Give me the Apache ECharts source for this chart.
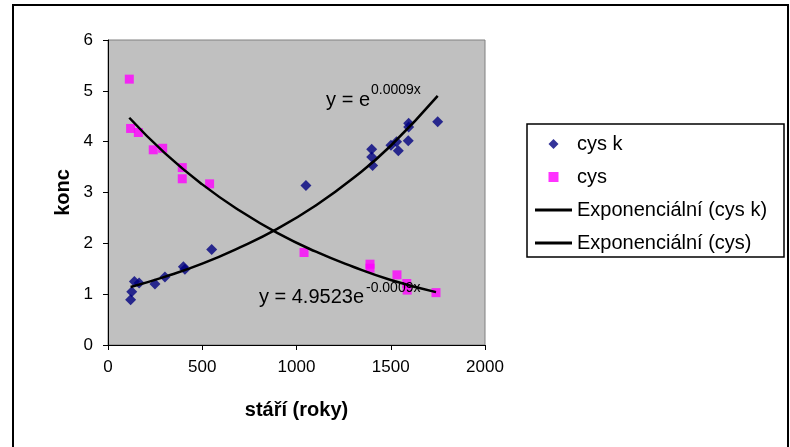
<!DOCTYPE html>
<html>
<head>
<meta charset="utf-8">
<script src="https://cdn.jsdelivr.net/npm/echarts@6/dist/echarts.min.js"></script>
<style>
html,body{margin:0;padding:0;background:#fff;}
#chart{width:790px;height:447px;}
</style>
</head>
<body>
<div id="chart"></div>
<script>
// ---- data ----
var cysKx = [120, 126, 140, 165, 249, 302, 400, 408, 550, 1050, 1399, 1399, 1404, 1501, 1531, 1540, 1593, 1595, 1595, 1749];
var cysKy = [0.89, 1.05, 1.25, 1.22, 1.20, 1.34, 1.54, 1.49, 1.88, 3.14, 3.85, 3.70, 3.53, 3.93, 4.00, 3.82, 4.02, 4.36, 4.29, 4.39];

var cysX = [113, 120, 161, 240, 290, 394, 394, 539, 1040, 1390, 1390, 1533, 1585, 1587, 1740];
var cysY = [5.23, 4.26, 4.18, 3.84, 3.87, 3.49, 3.27, 3.17, 1.82, 1.59, 1.51, 1.38, 1.21, 1.08, 1.03];

// trend lines, points
var trendKx = [120, 300, 500, 700, 900, 1100, 1300, 1500, 1749];
var trendKy = [1.14, 1.34, 1.60, 1.92, 2.29, 2.74, 3.28, 3.92, 4.90];
var trendCx = [113, 300, 500, 700, 900, 1100, 1300, 1500, 1740];
var trendCy = [4.47, 3.78, 3.16, 2.64, 2.20, 1.84, 1.54, 1.28, 1.04];

var xTicks = [0, 500, 1000, 1500, 2000];
var yTicks = [0, 1, 2, 3, 4, 5, 6];

var seriesNames = ['cys k', 'cys', 'Exponenciální (cys k)', 'Exponenciální (cys)'];
var eqK = ['y = e', '0.0009x'];
var eqC = ['y = 4.9523e', '-0.0009x'];

function pairs(xs, ys) { return xs.map(function (x, i) { return [x, ys[i]]; }); }

var FONT = '"Liberation Sans", Arial, sans-serif';
var chart = echarts.init(document.getElementById('chart'), null, {renderer: 'canvas'});

var option = {
  animation: false,
  backgroundColor: '#fff',
  textStyle: {fontFamily: FONT},
  grid: {
    left: 108, right: 305, top: 40, bottom: 102,
    show: true, backgroundColor: '#C0C0C0', borderColor: '#808080', borderWidth: 1
  },
  xAxis: {
    type: 'value', min: xTicks[0], max: xTicks[xTicks.length - 1], interval: xTicks[1] - xTicks[0],
    name: 'stáří (roky)', nameLocation: 'middle', nameGap: 55,
    nameTextStyle: {fontSize: 20, fontWeight: 'bold', color: '#000', fontFamily: FONT},
    axisLine: {show: true, lineStyle: {color: '#000', width: 1}},
    axisTick: {show: true, length: 5, lineStyle: {color: '#000'}},
    axisLabel: {fontSize: 17, color: '#000', margin: 14, fontFamily: FONT,
                formatter: function (v) { return String(v); }},
    splitLine: {show: false}
  },
  yAxis: {
    type: 'value', min: yTicks[0], max: yTicks[yTicks.length - 1], interval: yTicks[1] - yTicks[0],
    name: 'konc', nameLocation: 'middle', nameGap: 35, nameRotate: 90,
    nameTextStyle: {fontSize: 20, fontWeight: 'bold', color: '#000', fontFamily: FONT},
    axisLine: {show: true, lineStyle: {color: '#000', width: 1}},
    axisTick: {show: true, length: 5, lineStyle: {color: '#000'}},
    axisLabel: {fontSize: 17, color: '#000', margin: 15, fontFamily: FONT,
                formatter: function (v) { return String(v); }},
    splitLine: {show: false}
  },
  legend: {
    orient: 'vertical', left: 530, top: 129,
    itemWidth: 37, itemHeight: 10, itemGap: 13,
    textStyle: {fontSize: 20, color: '#000', fontFamily: FONT},
    selectedMode: false,
    data: [
      {name: seriesNames[0], icon: 'path://M5,0L10,5L5,10L0,5Z'},
      {name: seriesNames[1], icon: 'path://M0,0H9V9H0Z'},
      {name: seriesNames[2], icon: 'path://M0,0H37V3H0Z'},
      {name: seriesNames[3], icon: 'path://M0,0H37V3H0Z'}
    ]
  },
  series: [
    {
      name: seriesNames[0], type: 'scatter', symbol: 'diamond', symbolSize: 11,
      itemStyle: {color: '#000080'}, data: pairs(cysKx, cysKy)
    },
    {
      name: seriesNames[1], type: 'scatter', symbol: 'rect', symbolSize: 9,
      itemStyle: {color: '#FF00FF'}, data: pairs(cysX, cysY)
    },
    {
      name: seriesNames[2], type: 'line', smooth: true, showSymbol: false, symbol: 'none',
      itemStyle: {color: '#000'}, lineStyle: {color: '#000', width: 2.5},
      data: pairs(trendKx, trendKy)
    },
    {
      name: seriesNames[3], type: 'line', smooth: true, showSymbol: false, symbol: 'none',
      itemStyle: {color: '#000'}, lineStyle: {color: '#000', width: 2.5},
      data: pairs(trendCx, trendCy)
    }
  ],
  graphic: [
    {type: 'rect', z: 100, shape: {x: 13, y: 5, width: 775, height: 470},
     style: {fill: 'none', stroke: '#000', lineWidth: 2}},
    {type: 'rect', z: 100, shape: {x: 527, y: 124, width: 257, height: 133},
     style: {fill: 'none', stroke: '#000', lineWidth: 1.5}},
    {type: 'text', z: 100, x: 370, y: 100,
     style: {text: eqK[0], fontSize: 20, fill: '#000', fontFamily: FONT, align: 'right', verticalAlign: 'middle'}},
    {type: 'text', z: 100, x: 371, y: 90,
     style: {text: eqK[1], fontSize: 14, fill: '#000', fontFamily: FONT, align: 'left', verticalAlign: 'middle'}},
    {type: 'text', z: 100, x: 364, y: 297,
     style: {text: eqC[0], fontSize: 20, fill: '#000', fontFamily: FONT, align: 'right', verticalAlign: 'middle'}},
    {type: 'text', z: 100, x: 366, y: 288,
     style: {text: eqC[1], fontSize: 14, fill: '#000', fontFamily: FONT, align: 'left', verticalAlign: 'middle'}}
  ]
};
chart.setOption(option);
</script>
</body>
</html>
